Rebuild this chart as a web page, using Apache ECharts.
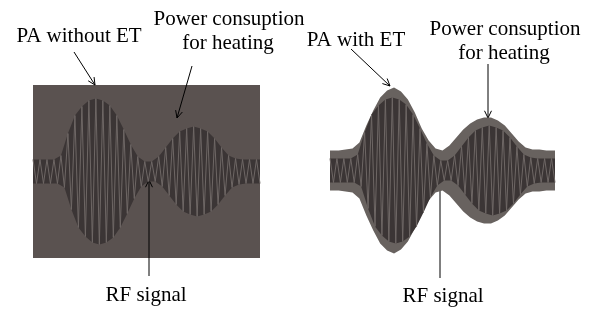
<!DOCTYPE html>
<html>
<head>
<meta charset="utf-8">
<script src="https://cdn.jsdelivr.net/npm/echarts@6/dist/echarts.min.js"></script>
<style>
html, body { margin: 0; padding: 0; background: #fff; }
#chart { width: 591px; height: 309px; }
</style>
</head>
<body>
<div id="chart"></div>
<script>
// RF envelope, one value per carrier cycle (same signal in both panels)
var rfEnvelope = [12, 12, 12, 12, 16, 38, 56, 65, 71, 73, 71, 66, 56, 42, 27, 15, 10,
                  10, 15, 24, 33, 40, 43, 45, 43, 40, 33, 24, 16, 13, 12, 12, 12];
// supply voltage of the PA with envelope tracking, per carrier cycle
var supplyEnvelope = [20, 20, 21, 22, 28, 45, 60, 73, 80, 83, 79, 71, 58, 42, 30, 22, 20,
                      25, 33, 41, 47, 51, 53, 53, 50, 45, 37, 29, 23, 21, 21, 20, 20];
var labelsLeft = ['PA without ET', 'Power consuption', 'for heating', 'RF signal'];
var labelsRight = ['PA with ET', 'Power consuption', 'for heating', 'RF signal'];

var tMax = rfEnvelope.length - 0.5;

// carrier: up to +a then down to -a in every cycle
function carrier(env) {
    var pts = [];
    env.forEach(function (a, i) {
        pts.push([i, a]);
        pts.push([i + 0.5, -a]);
    });
    return pts;
}

// filled area between +env and -env
function band(env, color, xi, top0, bot0) {
    return {
        type: 'custom',
        xAxisIndex: xi, yAxisIndex: xi,
        silent: true,
        data: env.map(function (a, i) { return [i, a]; }),
        encode: { x: 0, y: 1 },
        renderItem: function (params, api) {
            if (params.dataIndex > 0) return null;
            var top = [], bot = [];
            var n = env.length;
            top.push(api.coord([0, env[0]]));
            bot.push(api.coord([0, -env[0]]));
            env.forEach(function (a, i) {
                top.push(api.coord([i + top0, a]));
                bot.push(api.coord([i + bot0, -a]));
            });
            top.push(api.coord([tMax, env[n - 1]]));
            bot.push(api.coord([tMax, -env[n - 1]]));
            return { type: 'polygon', shape: { points: top.concat(bot.reverse()) }, style: { fill: color } };
        }
    };
}

function wave(env, xi) {
    return {
        type: 'line',
        xAxisIndex: xi, yAxisIndex: xi,
        data: carrier(env),
        showSymbol: false,
        silent: true,
        lineStyle: { color: '#6e6765', width: 1 }
    };
}

function text(str, x, y) {
    return {
        type: 'text', x: x, y: y, silent: true,
        style: { text: str, font: '21px "Liberation Serif", "DejaVu Serif", serif', fill: '#000',
                 align: 'center', verticalAlign: 'middle' }
    };
}

function arrow(x1, y1, x2, y2) {
    var ang = Math.atan2(y2 - y1, x2 - x1), len = 8, spread = 0.45;
    var h1 = [x2 - len * Math.cos(ang - spread), y2 - len * Math.sin(ang - spread)];
    var h2 = [x2 - len * Math.cos(ang + spread), y2 - len * Math.sin(ang + spread)];
    return [
        { type: 'polyline', silent: true, shape: { points: [[x1, y1], [x2, y2]] }, style: { stroke: '#000', lineWidth: 1 } },
        { type: 'polyline', silent: true, shape: { points: [h1, [x2, y2], h2] }, style: { stroke: '#000', lineWidth: 1, fill: null } }
    ];
}

var myChart = echarts.init(document.getElementById('chart'));

myChart.setOption({
    animation: false,
    grid: [
        { left: 33, top: 85, width: 227, height: 173, show: true, backgroundColor: '#5a5250', borderWidth: 0 },
        { left: 330, top: 84, width: 225, height: 173 }
    ],
    xAxis: [
        { type: 'value', gridIndex: 0, min: 0, max: tMax, show: false },
        { type: 'value', gridIndex: 1, min: 0, max: tMax, show: false }
    ],
    yAxis: [
        { type: 'value', gridIndex: 0, min: -86.5, max: 86.5, show: false },
        { type: 'value', gridIndex: 1, min: -86.5, max: 86.5, show: false }
    ],
    series: [
        band(rfEnvelope, '#3b3535', 0, 0, 0.5),
        wave(rfEnvelope, 0),
        band(supplyEnvelope, '#68625f', 1, 0.25, 0.25),
        band(rfEnvelope, '#3b3535', 1, 0, 0.5),
        wave(rfEnvelope, 1)
    ],
    graphic: [
        text(labelsLeft[0], 79, 36),
        text(labelsLeft[1], 229, 19),
        text(labelsLeft[2], 228, 43),
        text(labelsLeft[3], 146, 295),
        text(labelsRight[0], 356, 40),
        text(labelsRight[1], 505, 29),
        text(labelsRight[2], 504, 53),
        text(labelsRight[3], 443, 296)
    ].concat(
        arrow(74, 52, 95, 85),
        arrow(192, 66, 177, 118),
        arrow(351, 49, 390, 86),
        arrow(488, 64, 488, 118),
        arrow(149, 276, 149, 180),
        arrow(440, 278, 440, 183)
    )
});
</script>
</body>
</html>
